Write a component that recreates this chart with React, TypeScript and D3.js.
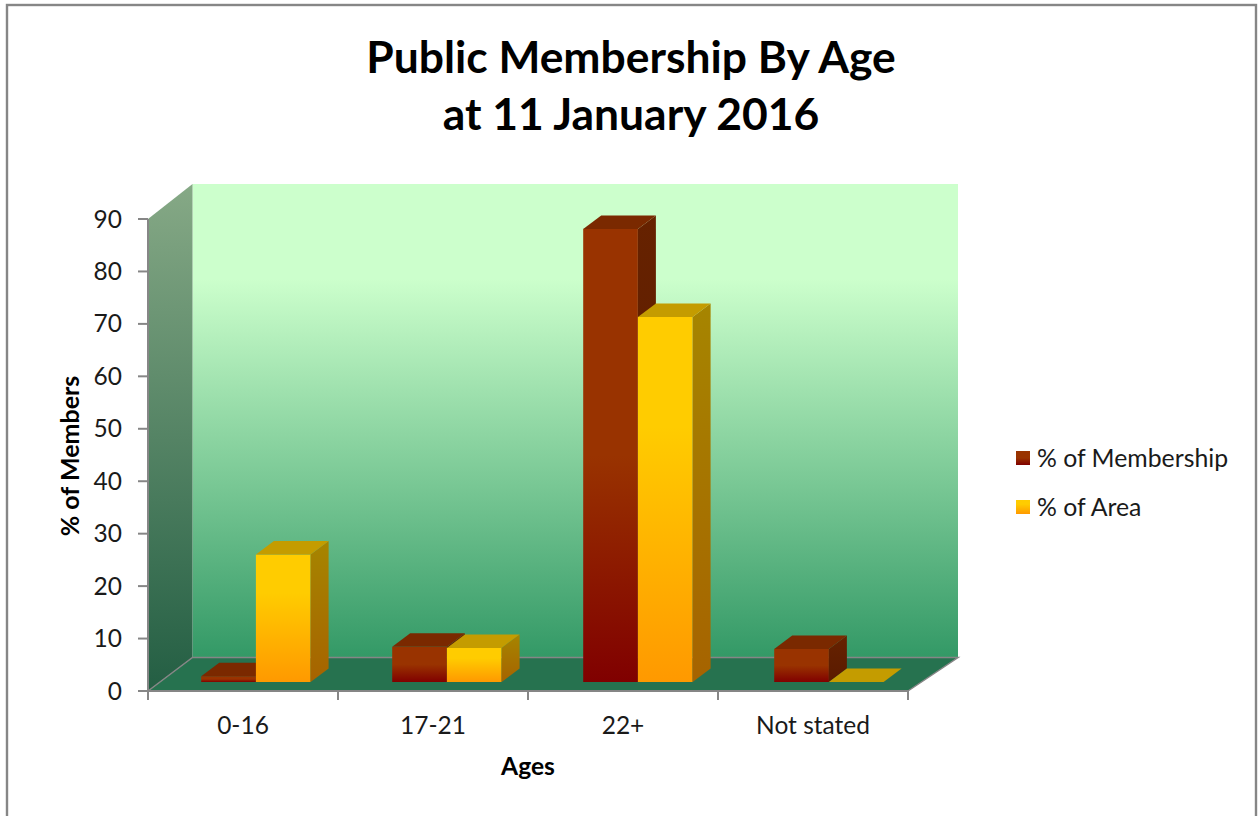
import React from "react";
import * as d3 from "d3";

const categories = ["0-16", "17-21", "22+", "Not stated"];
const membership = [1.1, 6.7, 86.4, 6.3];
const area = [24.3, 6.5, 69.6, 0];
const seriesNames = ["% of Membership", "% of Area"];
const yTicks = [0, 10, 20, 30, 40, 50, 60, 70, 80, 90];
const titleLines = ["Public Membership By Age", "at 11 January 2016"];
const yAxisTitle = "% of Members";
const xAxisTitle = "Ages";

const W = 1259, H = 816;
const x0 = 148, x1 = 908, y0 = 691, y90 = 219;
const backL = 192.5, backR = 958, backBottom = 657.5, backTop = 184;
const barDX = 18, barDY = 13.5, barBase = 682;
const FONT = "Lato, Carlito, sans-serif";
const GREY = "#868686";

const y = d3.scaleLinear().domain([0, 90]).range([y0, y90]);
const x = d3.scaleBand<string>().domain(categories).range([x0, x1]);
const barGroup = d3.scaleBand<string>().domain(categories).range([148, 912]);
const sub = d3.scaleBand<string>().domain(seriesNames).range([53.2, 162.6]);
const pts = (p: number[][]) => p.map((d) => d.join(",")).join(" ");

const seriesStyles = [
  { values: membership, front: "url(#redFront)", side: "url(#redSide)", top: "#7a2900" },
  { values: area, front: "url(#yelFront)", side: "url(#yelSide)", top: "#c49c00" },
];

function Grad({ id, stops }: { id: string; stops: [number, string][] }) {
  return (
    <linearGradient id={id} x1="0" y1="0" x2="0" y2="1">
      {stops.map(([o, c]) => <stop key={o} offset={o} stopColor={c} />)}
    </linearGradient>
  );
}

export default function App() {
  return (
    <svg width={W} height={H} viewBox={`0 0 ${W} ${H}`} style={{ position: "absolute", left: 0, top: 0, background: "#fff" }}>
      <defs>
        <Grad id="wall" stops={[[0, "#ccffcc"], [0.2, "#ccffcc"], [1, "#339966"]]} />
        <Grad id="leftWall" stops={[[0, "#86a986"], [1, "#235e43"]]} />
        <Grad id="redFront" stops={[[0, "#993300"], [0.5, "#993300"], [1, "#800000"]]} />
        <Grad id="redSide" stops={[[0, "#662200"], [1, "#5a1a00"]]} />
        <Grad id="yelFront" stops={[[0, "#ffcc00"], [0.3, "#ffcc00"], [1, "#ff9900"]]} />
        <Grad id="yelSide" stops={[[0, "#a68500"], [1, "#a66300"]]} />
      </defs>

      <rect x={7} y={5} width={1249} height={830} fill="#fff" stroke={GREY} strokeWidth={2.4} />

      {/* walls and floor */}
      <rect x={backL} y={backTop} width={backR - backL} height={backBottom - backTop} fill="url(#wall)" />
      <polygon points={pts([[x0, y90], [backL, backTop], [backL, backBottom], [x0, y0]])} fill="url(#leftWall)" />
      <polygon points={pts([[x0, y0], [backL, backBottom], [backR, backBottom], [x1, y0]])} fill="#26724f" />
      <polyline points={pts([[x0, y0], [backL, backBottom], [backR, backBottom], [x1, y0]])} fill="none" stroke={GREY} strokeWidth={1.5} />

      {/* bars */}
      {categories.map((c, i) => (
        <g key={c}>
          {seriesStyles.map((s, j) => {
            const bx = barGroup(c)! + sub(seriesNames[j])!;
            const bw = sub.bandwidth();
            const top = barBase - (y(0) - y(s.values[i]));
            return (
              <g key={j}>
                {s.values[i] > 0 && (
                  <rect x={bx} y={top} width={bw} height={barBase - top} fill={s.front} />
                )}
                {s.values[i] > 0 && (
                  <polygon
                    points={pts([[bx + bw, top], [bx + bw + barDX, top - barDY], [bx + bw + barDX, barBase - barDY], [bx + bw, barBase]])}
                    fill={s.side}
                  />
                )}
                <polygon
                  points={pts([[bx, top], [bx + barDX, top - barDY], [bx + bw + barDX, top - barDY], [bx + bw, top]])}
                  fill={s.top}
                />
              </g>
            );
          })}
        </g>
      ))}

      {/* axes */}
      <line x1={x0} x2={x0} y1={y90} y2={y0} stroke={GREY} strokeWidth={2} />
      <line x1={x0} x2={x1} y1={y0} y2={y0} stroke={GREY} strokeWidth={2} />
      {yTicks.map((t) => (
        <g key={t}>
          <line x1={x0 - 10} x2={x0} y1={y(t)} y2={y(t)} stroke={GREY} strokeWidth={2} />
          <text x={122} y={y(t) + 8.5} textAnchor="end" fontFamily={FONT} fontSize={24.5} fill="#1a1a1a">{t}</text>
        </g>
      ))}
      {categories.map((c) => (
        <g key={c}>
          <line x1={x(c)!} x2={x(c)!} y1={y0} y2={y0 + 9} stroke={GREY} strokeWidth={2} />
          <text x={x(c)! + x.bandwidth() / 2} y={734} textAnchor="middle" fontFamily={FONT} fontSize={24.5} fill="#1a1a1a">{c}</text>
        </g>
      ))}
      <line x1={x1} x2={x1} y1={y0} y2={y0 + 9} stroke={GREY} strokeWidth={2} />

      {/* titles */}
      {titleLines.map((t, i) => (
        <text key={t} x={631} y={73 + i * 56.5} textAnchor="middle" fontFamily={FONT} fontWeight={700} fontSize={44.4} fill="#000">{t}</text>
      ))}
      <text transform="translate(79,456) rotate(-90)" textAnchor="middle" fontFamily={FONT} fontWeight={700} fontSize={25} fill="#000">{yAxisTitle}</text>
      <text x={528} y={775} textAnchor="middle" fontFamily={FONT} fontWeight={700} fontSize={24.6} fill="#000">{xAxisTitle}</text>

      {/* legend */}
      {seriesNames.map((n, j) => (
        <g key={n}>
          <rect x={1016} y={451 + j * 49} width={14} height={14} fill={seriesStyles[j].front} />
          <text x={1037} y={467 + j * 49} fontFamily={FONT} fontSize={24.8} fill="#1a1a1a">{n}</text>
        </g>
      ))}
    </svg>
  );
}
